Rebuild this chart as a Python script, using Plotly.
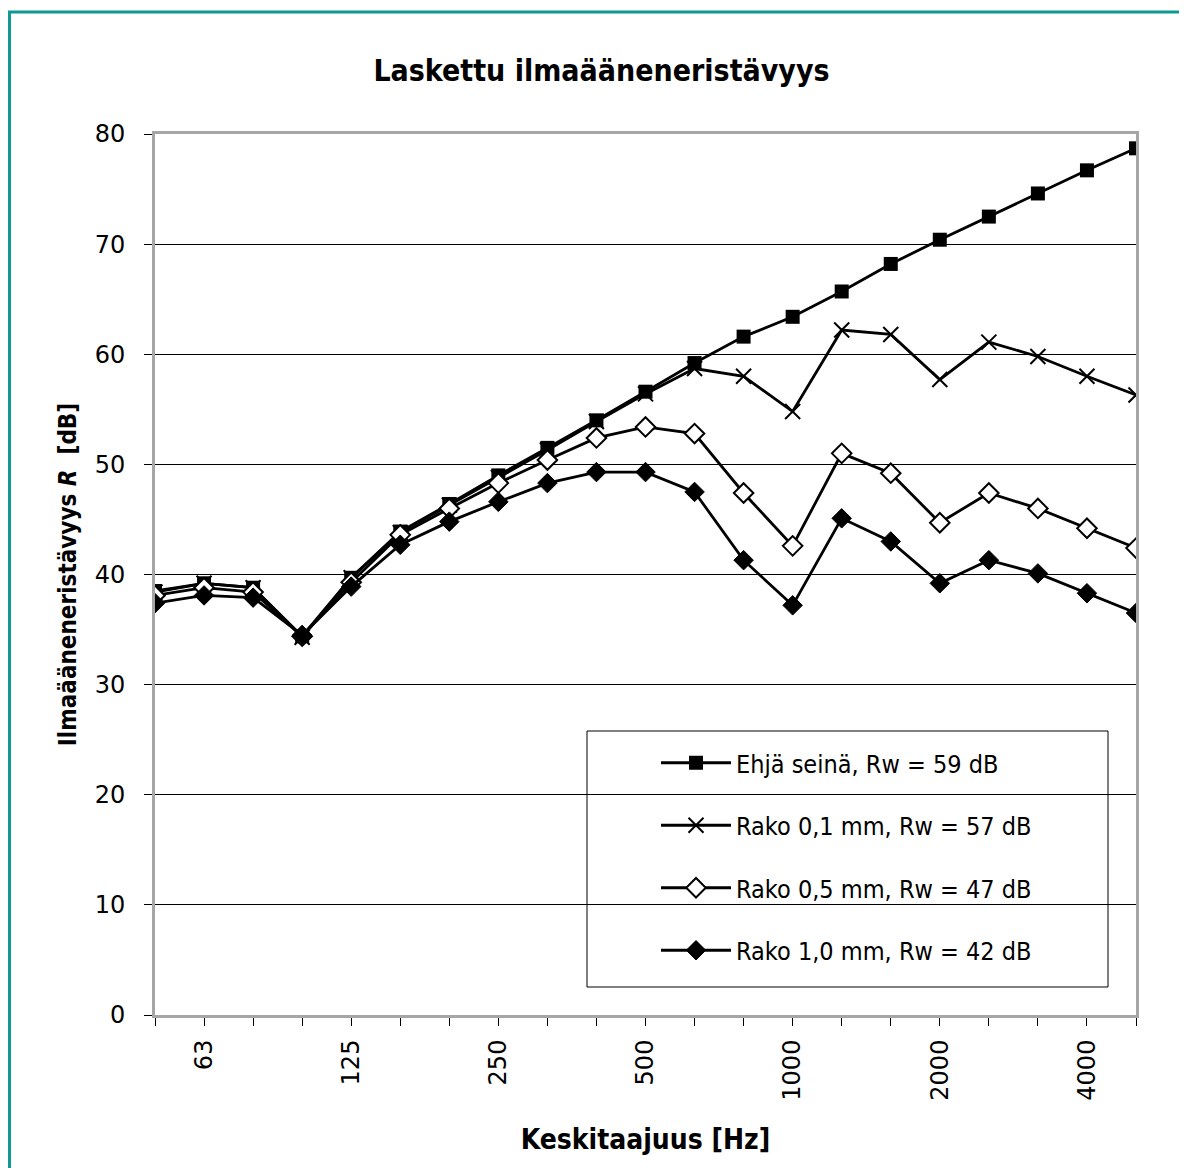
import plotly.graph_objs as go

# terssikaistat
freqs = ["50", "63", "80", "100", "125", "160", "200", "250", "315", "400", "500",
         "630", "800", "1000", "1250", "1600", "2000", "2500", "3150", "4000", "5000"]
shown = ["63", "125", "250", "500", "1000", "2000", "4000"]

ehja = [38.5, 39.2, 38.8, 34.4, 39.7, 43.9, 46.4, 49.0, 51.5, 54.0, 56.6,
        59.2, 61.6, 63.4, 65.7, 68.2, 70.4, 72.5, 74.6, 76.7, 78.7]
rako01 = [38.4, 39.2, 38.8, 34.3, 39.7, 43.8, 46.3, 48.8, 51.3, 53.9, 56.4,
          58.7, 58.0, 54.8, 62.2, 61.8, 57.7, 61.1, 59.8, 58.0, 56.3]
rako05 = [38.1, 38.8, 38.4, 34.4, 39.3, 43.6, 46.0, 48.3, 50.4, 52.4, 53.4,
          52.8, 47.4, 42.6, 51.0, 49.2, 44.7, 47.4, 46.0, 44.2, 42.4]
rako10 = [37.4, 38.1, 37.9, 34.5, 38.9, 42.7, 44.8, 46.6, 48.3, 49.3, 49.3,
          47.5, 41.3, 37.2, 45.1, 43.0, 39.2, 41.3, 40.1, 38.3, 36.5]

names = ["Ehjä seinä, Rw = 59 dB", "Rako 0,1 mm, Rw = 57 dB",
         "Rako 0,5 mm, Rw = 47 dB", "Rako 1,0 mm, Rw = 42 dB"]

SANS = "DejaVu Sans"
COND = "DejaVu Sans Condensed"

markers = [
    dict(symbol="square", size=14, color="black"),
    dict(symbol="x-thin", size=15, color="black", line=dict(color="black", width=2)),
    dict(symbol="diamond", size=15, color="white", line=dict(color="black", width=2)),
    dict(symbol="diamond", size=15, color="black", line=dict(color="black", width=1)),
]

pltData = []
for i, (nm, ys) in enumerate(zip(names, [ehja, rako01, rako05, rako10])):
    pltData.append(go.Scatter(x=freqs, y=ys, name=nm, mode="lines+markers",
                              legendgroup="g%d" % i,
                              line=dict(color="black", width=2.8),
                              marker=markers[i]))

# sivun body-marginaali 8 px huomioitu marginaaleissa
L, T = 147, 126
PW, PH = 981, 881

layout = go.Layout(
    width=1187, height=1168,
    margin=dict(l=L, r=1187 - L - PW, t=T, b=1168 - T - PH),
    paper_bgcolor="white", plot_bgcolor="white",
    title=dict(text="<b>Laskettu ilmaääneneristävyys</b>", x=0.5, xanchor="center",
               y=1 - 62 / 1168, yanchor="middle",
               font=dict(family=COND, size=30, color="black")),
    xaxis=dict(type="category", range=[0, 20], tickmode="array", tickvals=freqs,
               ticktext=[f if f in shown else "" for f in freqs],
               tickangle=-90, ticks="outside", ticklen=8, tickcolor="black",
               ticklabelstandoff=4,
               tickfont=dict(family=SANS, size=24, color="black"),
               showline=True, linecolor="#a6a6a6", linewidth=3, mirror=True,
               showgrid=False,
               title=dict(text="<b>Keskitaajuus [Hz]</b>", standoff=30,
                          font=dict(family=COND, size=28, color="black"))),
    yaxis=dict(range=[0, 80], dtick=10, ticks="outside", ticklen=8, tickcolor="black",
               ticklabelstandoff=14,
               tickfont=dict(family=SANS, size=24, color="black"),
               showline=True, linecolor="#a6a6a6", linewidth=3, mirror=True,
               showgrid=True, gridcolor="black", gridwidth=1, zeroline=False,
               title=dict(text="<b>Ilmaääneneristävyys <i>R</i>  [dB]</b>", standoff=12,
                          font=dict(family=COND, size=24, color="black"))),
    legend=dict(x=(656 - 155) / PW, xanchor="left", y=(1015 - 740) / PH, yanchor="top",
                bgcolor="rgba(0,0,0,0)", borderwidth=0, itemwidth=70,
                tracegroupgap=27, traceorder="grouped",
                font=dict(family=COND, size=25, color="black")),
    shapes=[
        # legendin kehys
        dict(type="rect", xref="paper", yref="paper",
             x0=(587 - 155) / PW, x1=(1108 - 155) / PW,
             y0=(1015 - 987) / PH, y1=(1015 - 731) / PH,
             line=dict(color="black", width=1), fillcolor="white", layer="below"),
        # kuvan reunus
        dict(type="rect", xref="paper", yref="paper",
             x0=(1.5 - L) / PW, x1=1.3, y0=-0.4, y1=1 + (T - 4) / PH,
             line=dict(color="#0e9a94", width=3), layer="below"),
    ],
)

fig = go.Figure(data=pltData, layout=layout)
fig.write_html("out.html")
